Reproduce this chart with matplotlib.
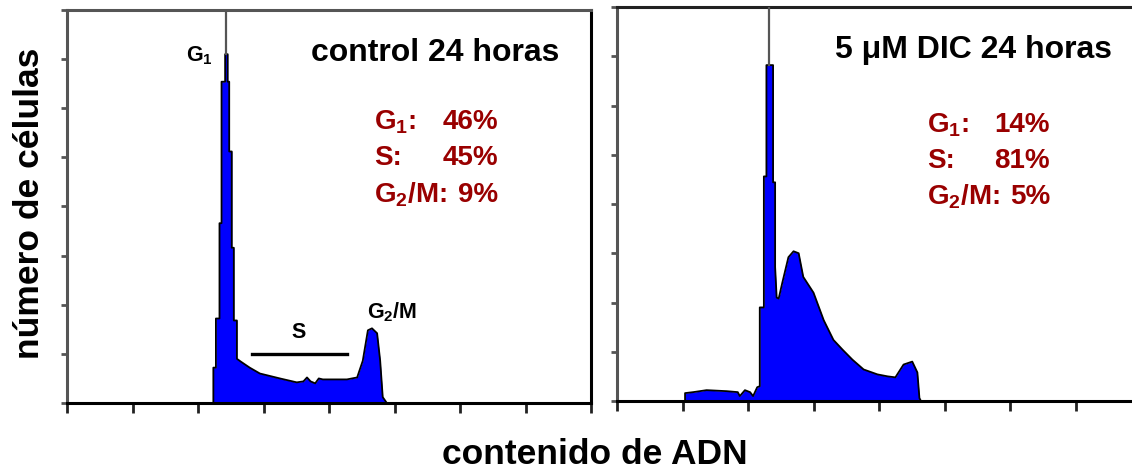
import matplotlib
matplotlib.use("Agg")
import matplotlib.pyplot as plt

# --- data: DNA content histograms (channel, cell count) ---
ctrl_canal = [280, 286, 286, 291, 291, 298, 298, 302, 302, 309, 309, 314, 314, 317, 317,
              322, 322, 326, 326, 332, 332, 340, 357, 377, 416, 449, 462, 469, 476, 485,
              492, 500, 547, 567, 578, 588, 596, 606, 612, 617, 625]
ctrl_celulas = [0, 0, 36, 36, 86, 86, 183, 183, 327, 327, 355, 355, 327, 327, 256,
                256, 158, 158, 84, 84, 45, 42, 36, 30, 25, 21, 22, 26, 22, 20,
                25, 24, 24, 26, 43, 74, 76, 71, 43, 6, 0]

dic_canal = [133, 133, 149, 175, 214, 236, 240, 250, 260, 266, 274, 279, 279, 287, 287,
             292, 292, 305, 305, 309, 309, 312, 316, 323, 335, 345, 355, 364, 384, 404,
             423, 441, 460, 482, 509, 529, 544, 560, 577, 587, 591, 594]
dic_celulas = [0, 8, 9, 11, 10, 9, 5, 11, 9, 5, 14, 15, 95, 95, 228,
               228, 341, 341, 222, 222, 136, 105, 104, 120, 146, 152, 150, 126, 110, 82,
               62, 52, 42, 32, 27, 25, 24, 37, 40, 29, 3, 0]

paneles = ["control 24 horas", "5 \u03bcM DIC 24 horas"]
fases = ["G$_1$:", "S:", "G$_2$/M:"]
ctrl_pct = ["46%", "45%", "9%"]
dic_pct = ["14%", "81%", "5%"]
g1_canal = [311, 297]   # G1 marker line

plt.rcParams["font.family"] = ["Liberation Sans", "DejaVu Sans"]
plt.rcParams["font.weight"] = "bold"
plt.rcParams["mathtext.fontset"] = "custom"
plt.rcParams["mathtext.rm"] = "Liberation Sans:bold"
plt.rcParams["mathtext.it"] = "Liberation Sans:bold"
plt.rcParams["mathtext.bf"] = "Liberation Sans:bold"
plt.rcParams["mathtext.default"] = "rm"

W, H = 1132, 470
fig = plt.figure(figsize=(W / 100, H / 100), dpi=100)
ax1 = fig.add_axes([67 / W, 67 / H, 524 / W, 393 / H])
ax2 = fig.add_axes([617 / W, 69 / H, 524 / W, 394 / H])

red = "#990000"
for ax, x, y, titulo, pct, g1, lab in [
        (ax1, ctrl_canal, ctrl_celulas, paneles[0], ctrl_pct, g1_canal[0], (842, 600)),
        (ax2, dic_canal, dic_celulas, paneles[1], dic_pct, g1_canal[1], (846, 606))]:
    ax.fill_between(x, y, color="#0000ff", lw=0, zorder=2)
    ax.plot(x, y, color="black", lw=1.3, zorder=3)
    ax.plot([g1, g1], [max(y), 400], color="#555555", lw=1.6, zorder=3)
    ax.set_xlim(0, 1024)
    ax.set_ylim(0, 400)
    ax.set_xticks(range(0, 1025, 128))
    ax.set_yticks(range(0, 401, 50))
    ax.set_xticklabels([])
    ax.set_yticklabels([])
    ax.tick_params(axis="x", direction="out", length=7, width=2, color="#222222")
    ax.tick_params(axis="y", direction="out", length=4, width=2, color="#555555")
    for s in ax.spines.values():
        s.set_linewidth(2.2)
    ax.spines["bottom"].set_color("black")
    ax.spines["left"].set_color("#555555")
    ax.text(lab[0] + 121, 356, titulo, ha="right", va="center", fontsize=23)
    for i in range(3):
        yy = 286 - i * 37 if ax is ax1 else 280 - i * 36.5
        ax.text(lab[1], yy, fases[i], ha="left", va="center", fontsize=20, color=red)
        ax.text(lab[0], yy, pct[i], ha="right", va="center", fontsize=20, color=red)

ax1.spines["top"].set_color("#555555")
ax1.spines["right"].set_color("black")
ax2.spines["top"].set_color("#222222")

# annotations on control panel
ax1.text(258, 353, "G$_1$", ha="center", va="center", fontsize=15.5)
ax1.text(453, 72, "S", ha="center", va="center", fontsize=15.5)
ax1.plot([361, 547], [50, 50], color="black", lw=2.4)
ax1.text(635, 92, "G$_2$/M", ha="center", va="center", fontsize=15.5)

fig.text(30 / W, 1 - 203 / H, "número de células", rotation=90, ha="center", va="center",
         fontsize=25.5)
fig.text(595 / W, 1 - 455 / H, "contenido de ADN", ha="center", va="center", fontsize=25.5)

fig.savefig("out.png", dpi=100, facecolor="white")
plt.close(fig)
